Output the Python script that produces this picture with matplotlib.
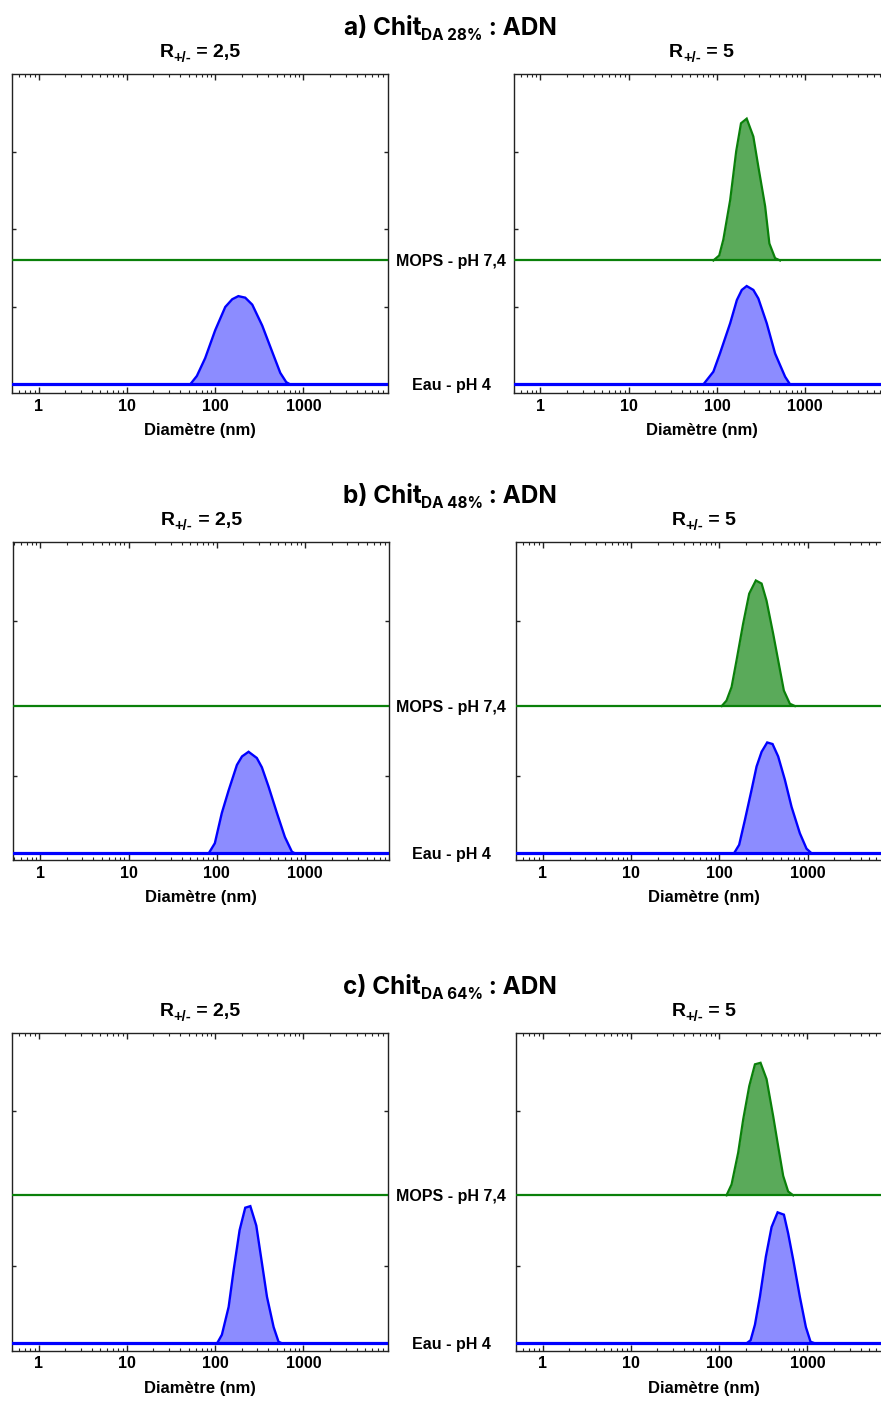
import numpy as np
import matplotlib
matplotlib.use("Agg")
import matplotlib.pyplot as plt
from matplotlib import transforms
from matplotlib.ticker import FixedLocator, LogLocator, NullFormatter

# ---------------- data ----------------
row_titles = [("a) Chit", "DA 28%", " : ADN"),
              ("b) Chit", "DA 48%", " : ADN"),
              ("c) Chit", "DA 64%", " : ADN")]
ratio_values = ["2,5", "5"]
x_ticks = [1, 10, 100, 1000]
x_tick_labels = ["1", "10", "100", "1000"]
label_mops = "MOPS - pH 7,4"
label_eau = "Eau - pH 4"
x_label = "Diamètre (nm)"

mops_offset = [1.6, 1.9, 1.91]
y_ticks = [[1, 2, 3], [1, 3], [1, 3]]

# a) R = 2,5  -- Eau
a25_eau_d = [52, 62, 77, 100, 130, 156, 183, 219, 263, 341, 443, 546, 638, 708]
a25_eau_i = [0, 0.11, 0.34, 0.70, 1.00, 1.10, 1.14, 1.12, 1.03, 0.76, 0.42, 0.15, 0.03, 0]
# a) R = 5
a5_mops_d = [91, 106, 118, 141, 165, 187, 217, 258, 294, 351, 392, 455, 518]
a5_mops_i = [0, 0.065, 0.27, 0.78, 1.41, 1.77, 1.83, 1.60, 1.21, 0.70, 0.22, 0.03, 0]
a5_eau_d = [70, 91, 108, 141, 168, 191, 217, 258, 294, 366, 455, 591, 673]
a5_eau_i = [0, 0.165, 0.40, 0.79, 1.09, 1.22, 1.27, 1.22, 1.11, 0.79, 0.40, 0.10, 0]
# b) R = 2,5
b25_eau_d = [81, 95, 114, 136, 169, 193, 229, 284, 324, 386, 480, 591, 710, 767]
b25_eau_i = [0, 0.13, 0.52, 0.81, 1.14, 1.25, 1.31, 1.23, 1.11, 0.86, 0.52, 0.21, 0.02, 0]
# b) R = 5
b5_mops_d = [106, 120, 137, 156, 185, 217, 258, 300, 341, 406, 462, 536, 627, 714]
b5_mops_i = [0, 0.07, 0.245, 0.59, 1.06, 1.45, 1.62, 1.58, 1.36, 0.93, 0.59, 0.20, 0.03, 0]
b5_eau_d = [146, 167, 194, 231, 263, 300, 347, 399, 462, 550, 655, 813, 968, 1104]
b5_eau_i = [0, 0.11, 0.43, 0.82, 1.12, 1.31, 1.43, 1.41, 1.25, 0.95, 0.60, 0.26, 0.06, 0]
# c) R = 2,5
c25_eau_d = [105, 119, 142, 162, 189, 219, 250, 292, 339, 386, 459, 522, 571]
c25_eau_i = [0, 0.11, 0.47, 0.95, 1.46, 1.75, 1.77, 1.52, 1.03, 0.60, 0.21, 0.02, 0]
# c) R = 5
c5_mops_d = [121, 138, 164, 187, 219, 254, 294, 344, 409, 466, 531, 604, 689]
c5_mops_i = [0, 0.14, 0.55, 0.98, 1.41, 1.69, 1.71, 1.50, 1.02, 0.63, 0.25, 0.05, 0]
c5_eau_d = [204, 227, 254, 289, 338, 392, 459, 541, 604, 689, 820, 959, 1084, 1213]
c5_eau_i = [0, 0.04, 0.24, 0.60, 1.12, 1.50, 1.69, 1.66, 1.42, 1.08, 0.60, 0.21, 0.02, 0]

panels = [
    [(None, (a25_eau_d, a25_eau_i)), ((a5_mops_d, a5_mops_i), (a5_eau_d, a5_eau_i))],
    [(None, (b25_eau_d, b25_eau_i)), ((b5_mops_d, b5_mops_i), (b5_eau_d, b5_eau_i))],
    [(None, (c25_eau_d, c25_eau_i)), ((c5_mops_d, c5_mops_i), (c5_eau_d, c5_eau_i))],
]

# ---------------- layout (pixels) ----------------
W, H = 881, 1401
rows_top = [74, 541.7, 1032.7]
rows_bottom = [393, 860, 1350.7]
left_x0 = [11.7, 13.3, 11.7]
right_x0 = [513.5, 516, 515.7]
ax_w = 376
ylims = [(-0.11, 4.006), (-0.086, 4.02), (-0.095, 4.008)]
xlim = (0.495, 9000)

BLUE = "#0000ff"
BLUE_FILL = "#8c8cff"
GREEN = "#0a800a"
GREEN_FILL = "#5aaa5a"
SANS = ["Liberation Sans", "DejaVu Sans"]
TITLE_FONT = ["Inter", "DejaVu Sans"]

fig = plt.figure(figsize=(W / 100, H / 100), dpi=100)
renderer = fig.canvas.get_renderer()


def fx(px):
    return px / W


def fy(py):
    return 1 - py / H


def rich(parts, xc, ybase, family):
    items = []
    total = 0
    for s, size, dy in parts:
        t = fig.text(0, 0, s, fontsize=size, family=family, weight="bold",
                     va="baseline", ha="left")
        w = t.get_window_extent(renderer).width
        items.append((t, dy, w))
        total += w
    x = xc - total / 2
    for t, dy, w in items:
        t.set_position((fx(x), fy(ybase + dy)))
        x += w


def style_axes(ax, ylim, yt):
    ax.set_xscale("log")
    ax.set_xlim(*xlim)
    ax.set_ylim(*ylim)
    ax.xaxis.set_major_locator(FixedLocator(x_ticks))
    ax.set_xticklabels(x_tick_labels, fontsize=11.5, fontweight="bold", family=SANS)
    ax.xaxis.set_minor_locator(LogLocator(base=10, subs=np.arange(2, 10), numticks=20))
    ax.xaxis.set_minor_formatter(NullFormatter())
    ax.set_yticks(yt)
    ax.set_yticklabels([])
    ax.tick_params(axis="x", which="major", direction="in", length=4.5, width=1,
                   top=True, bottom=True, pad=4, colors="#222222", labelcolor="black")
    ax.tick_params(axis="x", which="minor", direction="in", length=2.5, width=0.8,
                   top=True, bottom=True, colors="#222222")
    ax.tick_params(axis="y", which="major", direction="in", length=3, width=1,
                   left=True, right=True, colors="#222222")
    for sp in ax.spines.values():
        sp.set_color("#222222")
        sp.set_linewidth(1.0)
    ax.set_xlabel(x_label, fontsize=12, fontweight="bold", family=SANS, labelpad=7)


def draw_dist(ax, d, i, off, line_c, fill_c, lw):
    y = np.asarray(i) + off
    ax.fill_between(d, off, y, color=fill_c, lw=0, zorder=2)
    ax.plot(d, y, color=line_c, lw=lw, zorder=3, solid_joinstyle="miter")


for r in range(3):
    top, bot = rows_top[r], rows_bottom[r]
    h = bot - top
    axes = []
    for c, x0 in enumerate([left_x0[r], right_x0[r]]):
        ax = fig.add_axes([fx(x0), fy(bot), ax_w / W, h / H])
        style_axes(ax, ylims[r], y_ticks[r])
        off = mops_offset[r]
        mops, eau = panels[r][c]
        ax.axhline(off, color=GREEN, lw=1.6, zorder=4)
        ax.axhline(0, color=BLUE, lw=2.3, zorder=4)
        if mops is not None:
            draw_dist(ax, mops[0], mops[1], off, GREEN, GREEN_FILL, 1.6)
        if eau is not None:
            draw_dist(ax, eau[0], eau[1], 0, BLUE, BLUE_FILL, 1.7)
        axes.append(ax)
        # panel title
        xc = x0 + ax_w / 2
        rich([("R", 14, 0), ("+/-", 10.5, 5.5), (" = " + ratio_values[c], 14, 0)],
             xc, top - 17, SANS)
    # row labels between panels
    trans = transforms.blended_transform_factory(fig.transFigure, axes[0].transData)
    axes[0].text(fx(451), mops_offset[r], label_mops, transform=trans, ha="center",
                 va="center_baseline", fontsize=11.5, fontweight="bold", family=SANS,
                 clip_on=False)
    axes[0].text(fx(451), 0, label_eau, transform=trans, ha="center",
                 va="center_baseline", fontsize=11.5, fontweight="bold", family=SANS,
                 clip_on=False)
    # main title
    t1, t2, t3 = row_titles[r]
    rich([(t1, 17.5, 0), (t2, 11, 5), (t3, 17.5, 0)], 450, top - 39, TITLE_FONT)

fig.savefig("out.png", dpi=100)
